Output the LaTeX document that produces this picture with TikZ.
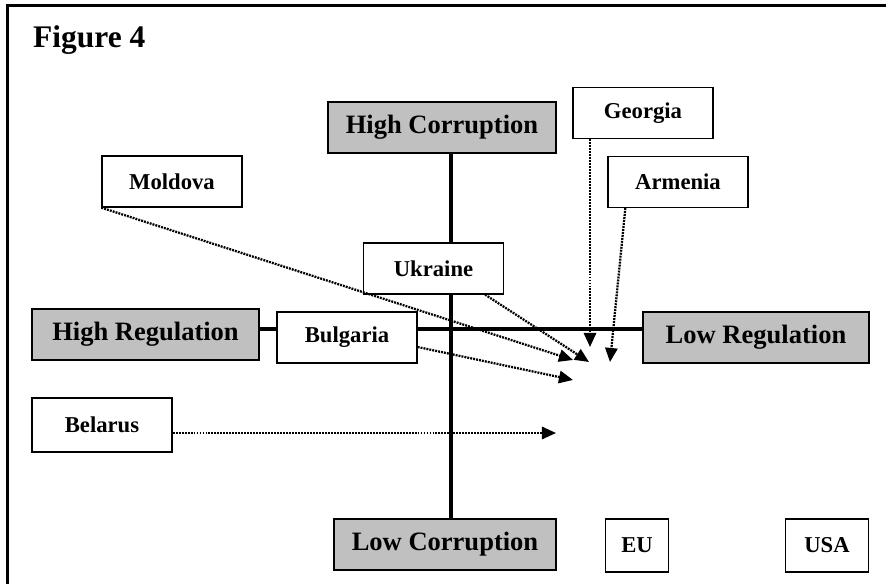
\documentclass[tikz,border=0pt]{standalone}
\usepackage{fontspec}
\setmainfont{Liberation Serif}
\usepackage{xcolor}
\usetikzlibrary{arrows.meta,backgrounds}
\definecolor{boxgray}{RGB}{192,192,192}

\begin{document}
\begin{tikzpicture}[x=0.02cm, y=-0.02cm,
    country/.style={draw, line width=0.75pt, fill=white, inner sep=0pt,
        minimum width=2.8cm, minimum height=1.02cm,
        font=\fontsize{12.9}{15}\selectfont\bfseries},
    pole/.style={country, fill=boxgray, font=\fontsize{15.1}{18}\selectfont\bfseries},
    axis/.style={line width=2.3pt},
    move/.style={line width=1.3pt, dash pattern=on 1.1pt off 0.6pt, -{Triangle[length=8pt, width=7pt]}}]
        \useasboundingbox (0,0) rectangle (886,584);

        % Frame and title
        \draw[line width=1.7pt] (886,5.5) -- (7.5,5.5) -- (7.5,584);
        \node[font=\fontsize{17.9}{21}\selectfont\bfseries, anchor=base west] (title) at (27,48) {Figure 4};

        % Poles of the two axes (grey)
        \node[pole, minimum width=4.56cm] (hicorr) at (442,127.5) {High Corruption};
        \node[pole, minimum width=4.44cm] (locorr) at (445,544.5) {Low Corruption};
        \node[pole, minimum width=4.54cm] (hireg) at (145.5,334.5) {High Regulation};
        \node[pole, minimum width=4.52cm] (loreg) at (756,337.5) {Low Regulation};

        % Countries
        \node[country] (georgia) at (643,113) {Georgia};
        \node[country] (armenia) at (678,182) {Armenia};
        \node[country] (moldova) at (172,181.5) {Moldova};
        \node[country] (ukraine) at (433.5,268.5) {Ukraine};
        \node[country] (bulgaria) at (347,337.5) {Bulgaria};
        \node[country, minimum height=1.08cm] (belarus) at (102,425) {Belarus};
        \node[country, minimum width=1.26cm, minimum height=1.06cm] (eu) at (637,545.5) {EU};
        \node[country, minimum width=1.66cm, minimum height=1.06cm] (usa) at (827,545.5) {USA};

        % Axes (behind the boxes)
        \coordinate (vx) at (451,0);
        \coordinate (hy) at (0,329);
        \begin{scope}[on background layer]
            \draw[axis] (hicorr.south -| vx) -- (locorr.north -| vx);
            \draw[axis] (hireg.east |- hy) -- (loreg.west |- hy);
        \end{scope}

        % Arrow tips
        \coordinate (motip) at (573,360);
        \coordinate (uktip) at (589,362);
        \coordinate (getip) at (590,347);
        \coordinate (artip) at (610,362);
        \coordinate (butip) at (573,380);
        \coordinate (betip) at (556,433);

        % Moves (dotted)
        \draw[move] (moldova.south west) -- (motip);
        \draw[move] ([xshift=-0.38cm]ukraine.south east) -- (uktip);
        \draw[move] (georgia.south -| getip) -- (getip);
        \draw[move] ([xshift=0.36cm]armenia.south west) -- (artip);
        \draw[move] ([yshift=-0.19cm]bulgaria.east) -- (butip);
        \draw[move] (belarus.east |- betip) -- (betip);
    \end{tikzpicture}
\end{document}
